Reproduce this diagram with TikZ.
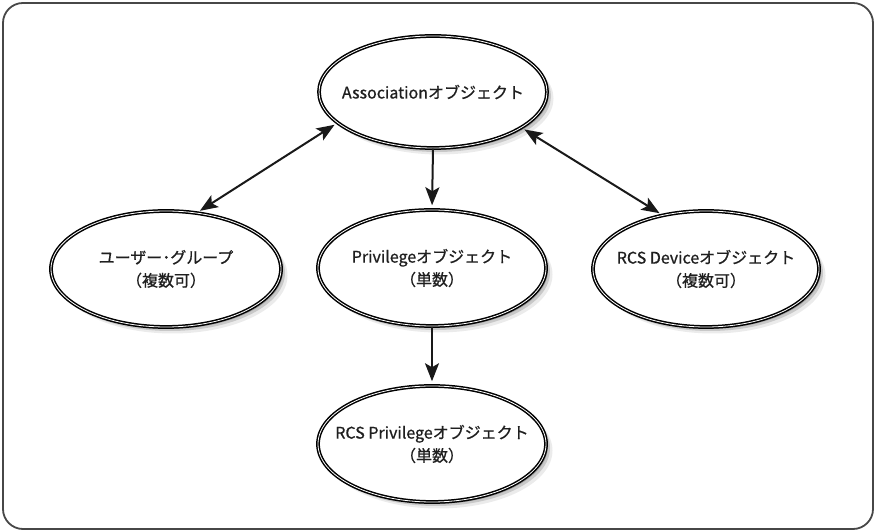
\documentclass[tikz,border=0pt]{standalone}
\usepackage{fontspec}
\setmainfont[FakeBold=0.8]{Noto Sans CJK JP}
\usetikzlibrary{shapes.geometric,arrows.meta,shadows}
\begin{document}
\begin{tikzpicture}[x=1pt,y=1pt,
  obj/.style={ellipse, draw=black, fill=white, line width=1.5pt, double=white, double distance=0.8pt,
    inner sep=0pt, minimum width=228pt, minimum height=114pt,
    drop shadow={shadow xshift=2pt, shadow yshift=-2pt, opacity=0.22, fill=black},
    drop shadow={shadow xshift=4pt, shadow yshift=-4pt, opacity=0.15, fill=black},
    drop shadow={shadow xshift=6.5pt, shadow yshift=-6.5pt, opacity=0.08, fill=black}},
  txt/.style={label={[align=center, font=\fontsize{16}{23}\selectfont, text=black!88, inner sep=0pt]center:#1}},
  link/.style={line width=2pt, draw=black!90},
  tip/.style={-{Stealth[length=18pt,width=14pt,inset=4pt]}},
  tips/.style={{Stealth[length=18pt,width=14pt,inset=4pt]}-{Stealth[length=18pt,width=14pt,inset=4pt]}}]
\useasboundingbox (0,0) rectangle (877,532);
\draw[line width=1.8pt, draw=black!72, rounded corners=20pt] (3,3) rectangle (873,529);
\node[obj, minimum height=112pt, txt={Associationオブジェクト}] (assoc) at (433,440) {};
\node[obj, minimum width=230pt, minimum height=116pt, txt={ユーザー･グループ\\（複数可）}] (user) at (166,263) {};
\node[obj, minimum height=116pt, txt={Privilegeオブジェクト\\（単数）}] (priv) at (432,264) {};
\node[obj, minimum width=226pt, minimum height=116pt, txt={RCS Deviceオブジェクト\\（複数可）}] (dev) at (706,263) {};
\node[obj, minimum height=116pt, txt={RCS Privilegeオブジェクト\\（単数）}] (rcs) at (432,88) {};
\draw[link, tips, shorten <=3pt, shorten >=3pt] (user.61) -- (assoc.198);
\draw[link, tips, shorten <=3pt, shorten >=3pt] (assoc.338) -- (dev.129);
\draw[link, tip, shorten >=4pt] (assoc.south) -- (priv.north);
\draw[link, tip, shorten >=4pt] (priv.south) -- (rcs.north);
\end{tikzpicture}
\end{document}
